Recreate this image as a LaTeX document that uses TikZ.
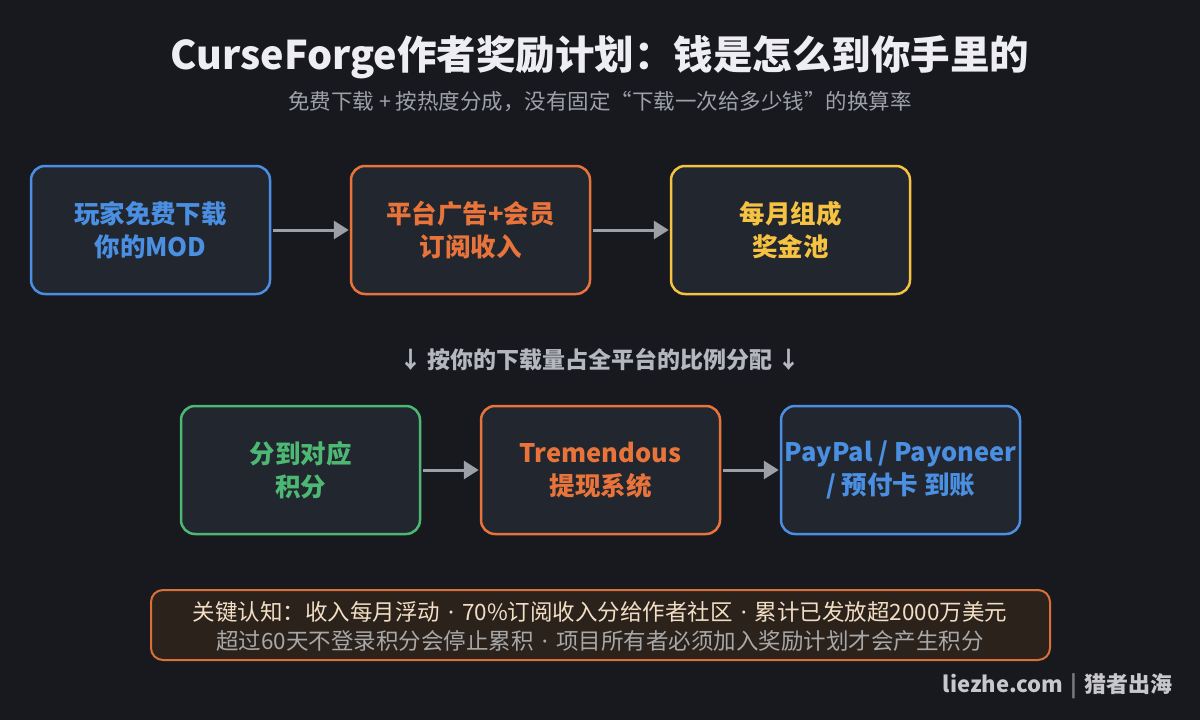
\documentclass[tikz,border=0pt]{standalone}
\usepackage{fontspec}
\setmainfont{Noto Sans CJK SC}
\newfontfamily\dotfont{Noto Sans}
\usetikzlibrary{arrows.meta}
\definecolor{bg}{HTML}{18191E}
\definecolor{boxfill}{HTML}{22262E}
\definecolor{cblue}{HTML}{4A8FE2}
\definecolor{corange}{HTML}{E8743B}
\definecolor{cyellow}{HTML}{F5C242}
\definecolor{cgreen}{HTML}{4CB874}
\definecolor{carrow}{HTML}{9AA0A6}
\definecolor{ctitle}{HTML}{EEEEF2}
\definecolor{csub}{HTML}{9EA2A8}
\definecolor{cmid}{HTML}{B4B8BE}
\definecolor{notefill}{HTML}{2B221C}
\definecolor{noteline}{HTML}{D9703A}
\definecolor{cnote}{HTML}{F2DEC4}
\definecolor{cnote2}{HTML}{A8A8A8}
\definecolor{cfoot}{HTML}{C8C8CC}
\newcommand{\mdot}{\hspace{8pt}{\dotfont ·}\hspace{8pt}}
\tikzset{
  flowbox/.style={draw=#1, text=#1, fill=boxfill, line width=2.5pt, rounded corners=14pt,
    minimum width=239pt, minimum height=128pt, inner sep=0pt, align=center,
    font=\fontsize{25.5}{33}\selectfont\bfseries},
  flowarrow/.style={draw=carrow, line width=3pt, -{Triangle[length=15pt,width=18pt]}},
}
\begin{document}
\begin{tikzpicture}[x=1pt,y=-1pt]
\fill[bg] (0,0) rectangle (1200,720);
\useasboundingbox (0,0) rectangle (1200,720);

\node[text=ctitle, font=\fontsize{39.5}{46}\selectfont\bfseries] (title) at (600,57) {CurseForge作者奖励计划：钱是怎么到你手里的};
\node[text=csub, font=\fontsize{21.5}{26}\selectfont] (sub) at (600,102) {免费下载 + 按热度分成，没有固定“下载一次给多少钱”的换算率};

\node[flowbox=cblue] (a) at (150.5,230) {玩家免费下载\\你的MOD};
\node[flowbox=corange] (b) at (470.5,230) {平台广告+会员\\订阅收入};
\node[flowbox=cyellow] (c) at (790.5,230) {每月组成\\奖金池};

\node[text=cmid, font=\fontsize{23}{28}\selectfont\bfseries] (mid) at (600,360) {↓ 按你的下载量占全平台的比例分配 ↓};

\node[flowbox=cgreen] (d) at (300.5,470) {分到对应\\积分};
\node[flowbox=corange] (e) at (600.5,470) {Tremendous\\提现系统};
\node[flowbox=cblue] (f) at (900.5,470) {PayPal / Payoneer\\/ 预付卡 到账};

\draw[flowarrow] (a.east) ++(1.5,0) coordinate (a1) -- ([xshift=-1pt]b.west);
\draw[flowarrow] (b.east) ++(1.5,0) coordinate (b1) -- ([xshift=-1pt]c.west);
\draw[flowarrow] (d.east) ++(1.5,0) coordinate (d1) -- ([xshift=-1pt]e.west);
\draw[flowarrow] (e.east) ++(1.5,0) coordinate (e1) -- ([xshift=-1pt]f.west);

\node[draw=noteline, fill=notefill, line width=2pt, rounded corners=12pt,
  minimum width=899pt, minimum height=70pt, inner sep=0pt] (note) at (600.5,625) {};
\node[text=cnote, font=\fontsize{22.5}{26}\selectfont] (n1) at (600,612) {关键认知：收入每月浮动\mdot 70\%订阅收入分给作者社区\mdot 累计已发放超2000万美元};
\node[text=cnote2, font=\fontsize{22.5}{26}\selectfont] (n2) at (600,641) {超过60天不登录积分会停止累积\mdot 项目所有者必须加入奖励计划才会产生积分};

\node[text=cfoot, font=\fontsize{22}{26}\selectfont\bfseries, anchor=east] (foot) at (1176,686) {liezhe.com\hspace{7pt}\textcolor{csub!70!bg}{|}\hspace{7pt}猎者出海};
\end{tikzpicture}
\end{document}
